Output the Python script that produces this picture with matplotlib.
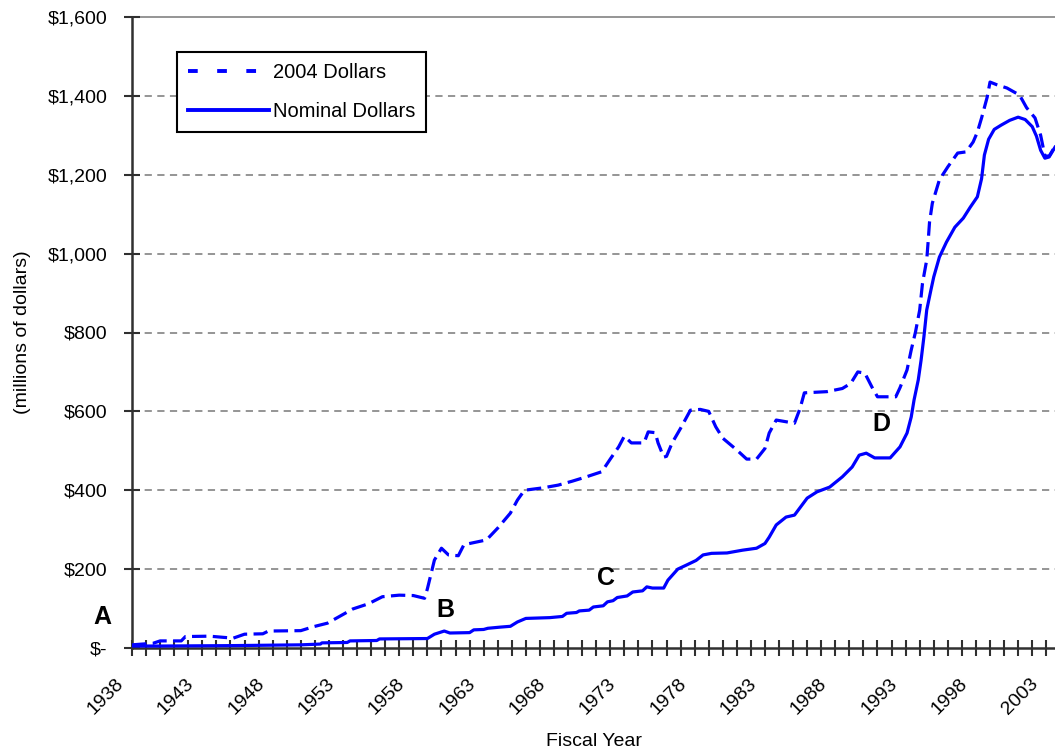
import matplotlib
matplotlib.use("Agg")
import matplotlib.pyplot as plt
import matplotlib.transforms as mtransforms
from matplotlib.lines import Line2D
from matplotlib.ticker import FixedLocator, FuncFormatter

plt.rcParams['font.family'] = ['Liberation Sans', 'DejaVu Sans']

# --- data (fiscal year, millions of dollars) ---
nominal_years = [1938.0, 1940.0, 1945.0, 1950.0, 1951.4, 1951.5, 1953.3, 1953.5, 1955.4, 1955.6,
                 1959.0, 1959.5, 1960.2, 1960.6, 1962.0, 1962.3, 1963.0, 1963.3, 1964.2, 1964.9,
                 1965.4, 1966.0, 1967.7, 1968.6, 1968.9, 1969.6, 1969.8, 1970.5, 1970.8, 1971.5,
                 1971.8, 1972.2, 1972.5, 1973.2, 1973.6, 1974.3, 1974.6, 1975.0, 1975.8, 1976.1,
                 1976.8, 1977.4, 1978.1, 1978.6, 1979.2, 1980.3, 1981.4, 1982.4, 1983.0, 1983.3,
                 1983.8, 1984.5, 1985.1, 1986.0, 1986.7, 1987.6, 1988.5, 1989.2, 1989.7, 1990.2,
                 1990.8, 1991.9, 1992.6, 1993.1, 1993.4, 1993.6, 1993.9, 1994.1, 1994.3, 1994.5,
                 1994.8, 1995.0, 1995.4, 1995.9, 1996.5, 1997.1, 1997.6, 1998.1, 1998.4, 1998.6,
                 1998.9, 1999.3, 1999.8, 2000.4, 2001.0, 2001.5, 2002.0, 2002.3, 2002.6, 2002.9,
                 2003.2, 2003.62]
nominal_vals = [5, 5, 6, 8, 10, 13, 14, 18, 19, 23,
                24, 35, 43, 38, 39, 46, 47, 50, 53, 55,
                66, 75, 77, 80, 88, 90, 94, 96, 104, 107,
                117, 120, 128, 132, 142, 145, 155, 152, 152, 172,
                200, 210, 222, 236, 240, 241, 248, 253, 265, 281,
                312, 332, 337, 380, 396, 408, 434, 459, 489, 494,
                482, 482, 510, 545, 586, 629, 680, 730, 789, 857,
                908, 941, 991, 1029, 1067, 1090, 1118, 1144, 1190, 1250,
                1290, 1315, 1326, 1338, 1346, 1340, 1322, 1298, 1262, 1242,
                1245, 1270]

real_years = [1938.0, 1939.5, 1940.0, 1941.5, 1941.8, 1943.5, 1944.5, 1945.2, 1946.0, 1947.3,
              1947.7, 1950.0, 1950.9, 1951.9, 1952.8, 1953.7, 1954.8, 1955.8, 1957.0, 1958.0,
              1958.8, 1959.0, 1959.5, 1960.0, 1960.5, 1961.2, 1961.6, 1963.2, 1964.0, 1964.9,
              1965.4, 1965.9, 1967.2, 1968.3, 1969.3, 1970.3, 1971.4, 1972.0, 1972.6, 1973.0,
              1973.5, 1974.4, 1974.7, 1975.2, 1975.4, 1975.8, 1976.0, 1976.4, 1977.0, 1977.7,
              1978.4, 1979.0, 1979.5, 1980.0, 1981.0, 1981.7, 1982.4, 1983.0, 1983.3, 1983.8,
              1985.1, 1985.5, 1985.8, 1987.4, 1988.5, 1989.1, 1989.6, 1990.1, 1990.6, 1991.0,
              1992.3, 1992.6, 1993.1, 1993.4, 1993.7, 1994.0, 1994.2, 1994.5, 1994.6, 1994.7,
              1994.9, 1995.4, 1996.0, 1996.7, 1997.3, 1997.8, 1998.1, 1998.4, 1998.8, 1999.0,
              1999.5, 2000.2, 2001.1, 2001.6, 2002.2, 2002.6, 2002.9, 2003.2, 2003.62]
real_vals = [8, 12, 18, 18, 29, 30, 27, 25, 35, 36,
             43, 44, 54, 63, 81, 99, 112, 130, 134, 133,
             126, 150, 223, 253, 236, 234, 262, 274, 304, 342,
             375, 400, 406, 413, 423, 434, 447, 479, 510, 537,
             520, 520, 548, 546, 520, 484, 486, 520, 557, 603,
             605, 600, 561, 532, 502, 479, 479, 506, 545, 578,
             570, 608, 647, 650, 658, 671, 700, 697, 662, 637,
             637, 660, 705, 756, 801, 857, 925, 984, 1030, 1080,
             1128, 1187, 1220, 1255, 1258, 1283, 1308, 1344, 1397, 1435,
             1428, 1420, 1402, 1370, 1344, 1300, 1248, 1247, 1272]

notes = ['A', 'B', 'C', 'D']
note_years = [1935.9, 1960.25, 1971.7, 1991.3]
note_vals = [79, 96, 177, 568]

year_ticks = list(range(1938, 2004))
y_ticks = list(range(0, 1601, 200))

blue = '#0000FF'
grid_gray = '#8C8C8C'

fig = plt.figure(figsize=(10.55, 7.51), dpi=100)
ax = fig.add_axes([132 / 1055, 103 / 751, 923 / 1055, 631 / 751])

ax.plot(real_years, real_vals, color=blue, lw=2.3, dashes=(4.5, 2.0),
        solid_joinstyle='miter', zorder=3)
ax.plot(nominal_years, nominal_vals, color=blue, lw=2.3, zorder=4)

ax.set_xlim(1938, 2003.62)
ax.set_ylim(0, 1600)

# grid
for v in y_ticks[1:-1]:
    ax.axhline(v, color=grid_gray, lw=1.3, dashes=(4, 3), zorder=1)
ax.axhline(1600, color=grid_gray, lw=1.3, zorder=1, clip_on=False)

for s in ['top', 'right']:
    ax.spines[s].set_visible(False)
for s in ['left', 'bottom']:
    ax.spines[s].set_linewidth(1.8)
    ax.spines[s].set_color('#303030')

ax.xaxis.set_major_locator(FixedLocator(year_ticks))
ax.xaxis.set_major_formatter(FuncFormatter(lambda x, p: str(int(round(x))) if int(round(x)) % 5 == 3 else ''))
ax.yaxis.set_major_locator(FixedLocator(y_ticks))
ax.yaxis.set_major_formatter(FuncFormatter(lambda v, p: '$-' if v == 0 else '${:,.0f}'.format(v)))

ax.tick_params(axis='both', direction='inout', length=11, width=1.5, color='#303030',
               labelsize=14, labelcolor='black')
ax.tick_params(axis='y', pad=12)
ax.tick_params(axis='x', pad=4)
shift = mtransforms.ScaledTranslation(-0.17, -0.14, fig.dpi_scale_trans)
for lab in ax.get_xticklabels():
    lab.set_rotation(45)
    lab.set_ha('right')
    lab.set_va('top')
    lab.set_rotation_mode('anchor')
    lab.set_transform(lab.get_transform() + shift)

ax.set_xlabel('Fiscal Year', fontsize=14, labelpad=11)
ax.set_ylabel('(millions of dollars)', fontsize=14, labelpad=12)

for t, x, y in zip(notes, note_years, note_vals):
    ax.text(x, y, t, fontsize=18, fontweight='bold', ha='center', va='center',
            clip_on=False, zorder=5)

handles = [Line2D([], [], color=blue, lw=2.8, dashes=(2.5, 5.0)),
           Line2D([], [], color=blue, lw=2.8)]
leg = ax.legend(handles, ['2004 Dollars', 'Nominal Dollars'], loc='upper left',
                bbox_to_anchor=(177 / 1055, 1 - 52 / 751), bbox_transform=fig.transFigure,
                borderaxespad=0, fontsize=14.5, frameon=True, fancybox=False,
                handlelength=4.0, handletextpad=0.2, labelspacing=1.0, borderpad=0.55)
leg.get_frame().set_edgecolor('black')
leg.get_frame().set_linewidth(1.5)
leg.get_frame().set_alpha(1)

fig.savefig('out.png', dpi=100)
